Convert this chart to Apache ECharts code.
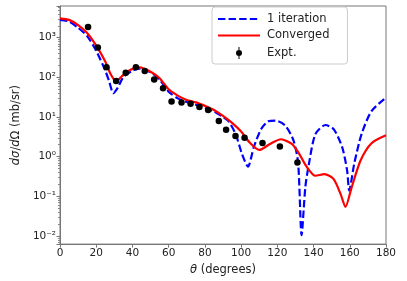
<!DOCTYPE html>
<html>
<head>
<meta charset="utf-8">
<script src="https://cdn.jsdelivr.net/npm/echarts@6/dist/echarts.min.js"></script>
<style>html,body{margin:0;padding:0;background:#fff}#c{width:407px;height:281px}</style>
</head>
<body>
<div id="c"></div>
<script>
// 1 iteration (blue dashed)
const iterTheta = [0,5,10,15,20,25,27,29.5,32,35,40,44,50,55,60,65,70,75,80,85,90,93,97,100.5,103.8,107,111,115,119,124.5,129,131.5,133.4,135.5,137.5,141,146.6,151.2,155.8,158.5,159.7,162.5,166.5,172,180];
const iterVals  = [2820,2570,1780,1100,468,148,83,40,56,102,148,166,135,87,43.6,29.5,24,20.4,17,13.8,10,7.9,3.7,1.17,0.56,1.74,4.9,7.8,8.1,6.0,2.5,0.68,0.0105,0.178,0.68,3.7,6.3,4.9,1.74,0.457,0.141,0.68,3.7,14.1,30.9];
// Converged (red)
const convTheta = [0,5,10,15,20,25,28,31,34,38,44,50,55,60,65,70,75,80,85,90,95,100,105,110,116,122,128,132,136,141,146,151,155,157.6,161,166,172,180];
const convVals  = [3090,2820,2090,1320,631,251,120,79,105,148,178,138,95,50,34.7,26.9,23.4,19.1,15.1,10.7,7.1,4.3,2.2,1.48,2.1,2.75,2.1,1.2,0.575,0.33,0.363,0.275,0.112,0.054,0.166,0.81,2.19,3.47];
// Experiment
const exptTheta = [15.5,20.9,25.7,31.0,36.3,41.9,46.8,52.0,56.9,61.6,67.1,72.1,77.0,81.8,87.7,91.7,96.9,101.9,111.8,121.4,131.1];
const exptVals  = [1860,565,181,81,131,181,145,89,53,24.6,23.3,21.5,17.8,15.1,7.9,4.8,3.3,3.0,2.2,1.8,0.71];
const xTicks = [0,20,40,60,80,100,120,140,160,180];
const supMap = {'-':'⁻','0':'⁰','1':'¹','2':'²','3':'³','4':'⁴','5':'⁵','6':'⁶','7':'⁷','8':'⁸','9':'⁹'};

const zip = (a,b) => a.map((v,i)=>[v,b[i]]);
const FONT = 'DejaVu Sans';
const hiddenSym = {color:'rgba(0,0,0,0)', borderWidth:0, opacity:0};
const chart = echarts.init(document.getElementById('c'), null, {renderer:'canvas'});
chart.setOption({
  animation:false,
  backgroundColor:'#fff',
  grid:{left:60,right:21,top:6,bottom:32,show:true,borderColor:'#777',borderWidth:1,backgroundColor:'transparent'},
  legend:{
    orient:'vertical', left:212, top:7,
    itemWidth:42, itemHeight:14, itemGap:4.5,
    padding:[6,18,4,5],
    borderColor:'#ccc', borderWidth:1, borderRadius:3,
    backgroundColor:'rgba(255,255,255,0.85)',
    textStyle:{fontFamily:FONT,fontSize:11.5,color:'#222',padding:[0,0,0,2]},
    data:[
      {name:'1 iteration', itemStyle:hiddenSym},
      {name:'Converged', itemStyle:hiddenSym},
      {name:'Expt.', icon:'path://M0,0 M42,14 M20.5,1 L21.5,1 L21.5,13 L20.5,13 Z M24,7 A3,3 0 1 1 18,7 A3,3 0 1 1 24,7 Z'}
    ]
  },
  xAxis:{
    type:'value', min:xTicks[0], max:xTicks[xTicks.length-1], interval:20,
    name:'{i|θ} (degrees)', nameLocation:'middle', nameGap:16,
    nameTextStyle:{fontFamily:FONT,fontSize:11.5,color:'#222',rich:{i:{fontFamily:FONT,fontStyle:'italic',fontSize:11.5,color:'#222'}}},
    axisLine:{show:true,lineStyle:{color:'#777',width:1}},
    axisTick:{show:true,length:3.5,lineStyle:{color:'#777'}},
    axisLabel:{fontFamily:FONT,fontSize:10.5,color:'#222',margin:4},
    splitLine:{show:false}
  },
  yAxis:{
    type:'log', logBase:10, min:0.00624, max:6310,
    name:'{i|dσ}/{i|d}Ω (mb/sr)', nameLocation:'middle', nameGap:27,
    nameTextStyle:{fontFamily:FONT,fontSize:11.5,color:'#222',rich:{i:{fontFamily:FONT,fontStyle:'italic',fontSize:11.5,color:'#222'}}},
    axisLine:{show:true,lineStyle:{color:'#777',width:1}},
    axisTick:{show:true,length:3.5,lineStyle:{color:'#777'}},
    minorTick:{show:true,splitNumber:9,length:2,lineStyle:{color:'#888'}},
    axisLabel:{fontFamily:FONT,fontSize:10.5,color:'#222',margin:4,
      formatter:function(v){
        const l = Math.log10(v); const r = Math.round(l);
        if (Math.abs(l-r) > 1e-6) return '';
        return '10' + String(r).split('').map(c=>supMap[c]).join('');
      }},
    splitLine:{show:false}
  },
  series:[
    {name:'1 iteration', type:'line', data:zip(iterTheta,iterVals), symbol:'none', smooth:0.25,
     lineStyle:{color:'#0000ff',width:2.2,type:[7.4,3.2]}, itemStyle:{color:'#0000ff'}, z:2},
    {name:'Converged', type:'line', data:zip(convTheta,convVals), symbol:'none', smooth:0.25,
     lineStyle:{color:'#ff0000',width:2.2}, itemStyle:{color:'#ff0000'}, z:3},
    {name:'Expt.', type:'scatter', data:zip(exptTheta,exptVals), symbol:'circle', symbolSize:6.5,
     itemStyle:{color:'#000',opacity:1}, z:4}
  ]
});
</script>
</body>
</html>
